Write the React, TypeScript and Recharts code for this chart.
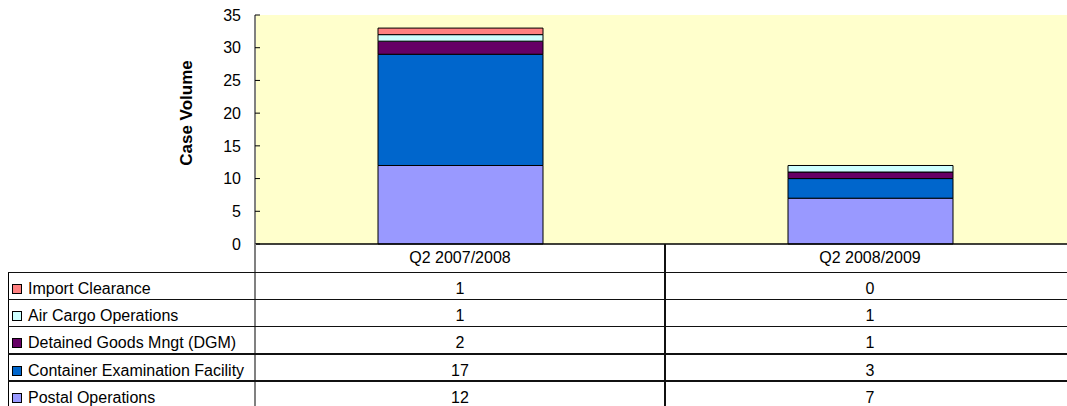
import { Bar, BarChart, CartesianGrid, XAxis, YAxis } from 'recharts';

const categories = ['Q2 2007/2008', 'Q2 2008/2009'];
const postalOperations = [12, 7];
const containerExamination = [17, 3];
const detainedGoods = [2, 1];
const airCargo = [1, 1];
const importClearance = [1, 0];
const yTicks = [0, 5, 10, 15, 20, 25, 30, 35];

// bottom to top of the stack
const series = [
  { key: 'postal', name: 'Postal Operations', values: postalOperations, color: '#9999FF' },
  { key: 'cef', name: 'Container Examination Facility', values: containerExamination, color: '#0066CC' },
  { key: 'dgm', name: 'Detained Goods Mngt (DGM)', values: detainedGoods, color: '#660066' },
  { key: 'air', name: 'Air Cargo Operations', values: airCargo, color: '#CCFFFF' },
  { key: 'import', name: 'Import Clearance', values: importClearance, color: '#FF8080' },
];

const data = categories.map((name, i) => {
  const row: Record<string, string | number> = { name };
  series.forEach((s) => {
    row[s.key] = s.values[i];
  });
  return row;
});

const FONT = '"Liberation Sans", Arial, sans-serif';
const PLOT_LEFT = 255;
const PLOT_TOP = 15;
const AXIS_Y = 244;
const CAT_W = 410;
const HEADER_H = 28;
const ROW_H = 27.2;
const TABLE_LEFT = 8;

const YTick = ({ x, y, payload }: any) => (
  <g>
    <line x1={x + 14} x2={x + 19} y1={y} y2={y} stroke="#000" />
    <text x={x} y={y} dy="0.36em" textAnchor="end" fontSize={16} fontFamily={FONT} fill="#000">
      {payload.value}
    </text>
  </g>
);

const YTitle = ({ viewBox }: any) => {
  const cx = viewBox.x + 186;
  const cy = 113;
  return (
    <text
      x={cx}
      y={cy}
      transform={`rotate(-90 ${cx} ${cy})`}
      textAnchor="middle"
      dominantBaseline="central"
      fontSize={17}
      fontWeight="bold"
      fontFamily={FONT}
      fill="#000"
    >
      Case Volume
    </text>
  );
};

const tableRows = [...series].reverse();

export default function App() {
  const chartWidth = PLOT_LEFT + CAT_W * categories.length;
  const tableTop = AXIS_Y + HEADER_H;
  return (
    <div
      style={{
        position: 'absolute',
        left: 0,
        top: 0,
        width: 1067,
        height: 406,
        overflow: 'hidden',
        background: '#fff',
        fontFamily: FONT,
      }}
    >
      <BarChart
        width={chartWidth}
        height={tableTop}
        data={data}
        margin={{ top: PLOT_TOP, right: 0, bottom: 0, left: 0 }}
        barSize={165}
      >
        <CartesianGrid horizontal={false} vertical={false} fill="#FFFFCC" />
        <XAxis
          dataKey="name"
          height={HEADER_H}
          tickLine={false}
          tickSize={0}
          tickMargin={8}
          axisLine={{ stroke: '#000', strokeWidth: 1.5 }}
          tick={{ fontSize: 16, fontFamily: FONT, fill: '#000' }}
        />
        <YAxis
          width={PLOT_LEFT}
          domain={[0, 35]}
          ticks={yTicks}
          interval={0}
          tickLine={false}
          tickSize={0}
          tickMargin={14}
          axisLine={{ stroke: '#808080', strokeWidth: 2 }}
          tick={<YTick />}
          label={<YTitle />}
        />
        {series.map((s) => (
          <Bar
            key={s.key}
            dataKey={s.key}
            name={s.name}
            stackId="a"
            fill={s.color}
            stroke="#000"
            strokeWidth={1}
            isAnimationActive={false}
          />
        ))}
      </BarChart>

      {/* data table under the chart */}
      <div
        style={{
          position: 'absolute',
          left: PLOT_LEFT - 1,
          top: AXIS_Y,
          width: 2,
          height: 406 - AXIS_Y,
          background: '#808080',
        }}
      />
      <div
        style={{
          position: 'absolute',
          left: TABLE_LEFT,
          top: tableTop,
          width: 1,
          height: 406 - tableTop,
          background: '#000',
        }}
      />
      {categories.slice(1).map((c, i) => (
        <div
          key={c}
          style={{
            position: 'absolute',
            left: PLOT_LEFT + CAT_W * (i + 1) - 1,
            top: AXIS_Y,
            width: 2,
            height: 406 - AXIS_Y,
            background: '#111',
          }}
        />
      ))}
      {tableRows.map((s, r) => {
        const top = tableTop + ROW_H * r;
        return (
          <div key={s.key}>
            <div
              style={{
                position: 'absolute',
                left: TABLE_LEFT,
                top: top - 0.5,
                width: chartWidth - TABLE_LEFT,
                height: 1.5,
                background: '#111',
              }}
            />
            <div
              style={{
                position: 'absolute',
                left: 12,
                top: top + 12,
                width: 8,
                height: 8,
                background: s.color,
                border: '1px solid #000',
              }}
            />
            <div
              style={{
                position: 'absolute',
                left: 28,
                top: top + 3,
                height: ROW_H,
                lineHeight: `${ROW_H}px`,
                fontSize: 16,
                color: '#000',
                whiteSpace: 'nowrap',
              }}
            >
              {s.name}
            </div>
            {s.values.map((v, i) => (
              <div
                key={i}
                style={{
                  position: 'absolute',
                  left: PLOT_LEFT + CAT_W * i,
                  top: top + 3,
                  width: CAT_W,
                  height: ROW_H,
                  lineHeight: `${ROW_H}px`,
                  textAlign: 'center',
                  fontSize: 16,
                  color: '#000',
                }}
              >
                {v}
              </div>
            ))}
          </div>
        );
      })}
    </div>
  );
}
